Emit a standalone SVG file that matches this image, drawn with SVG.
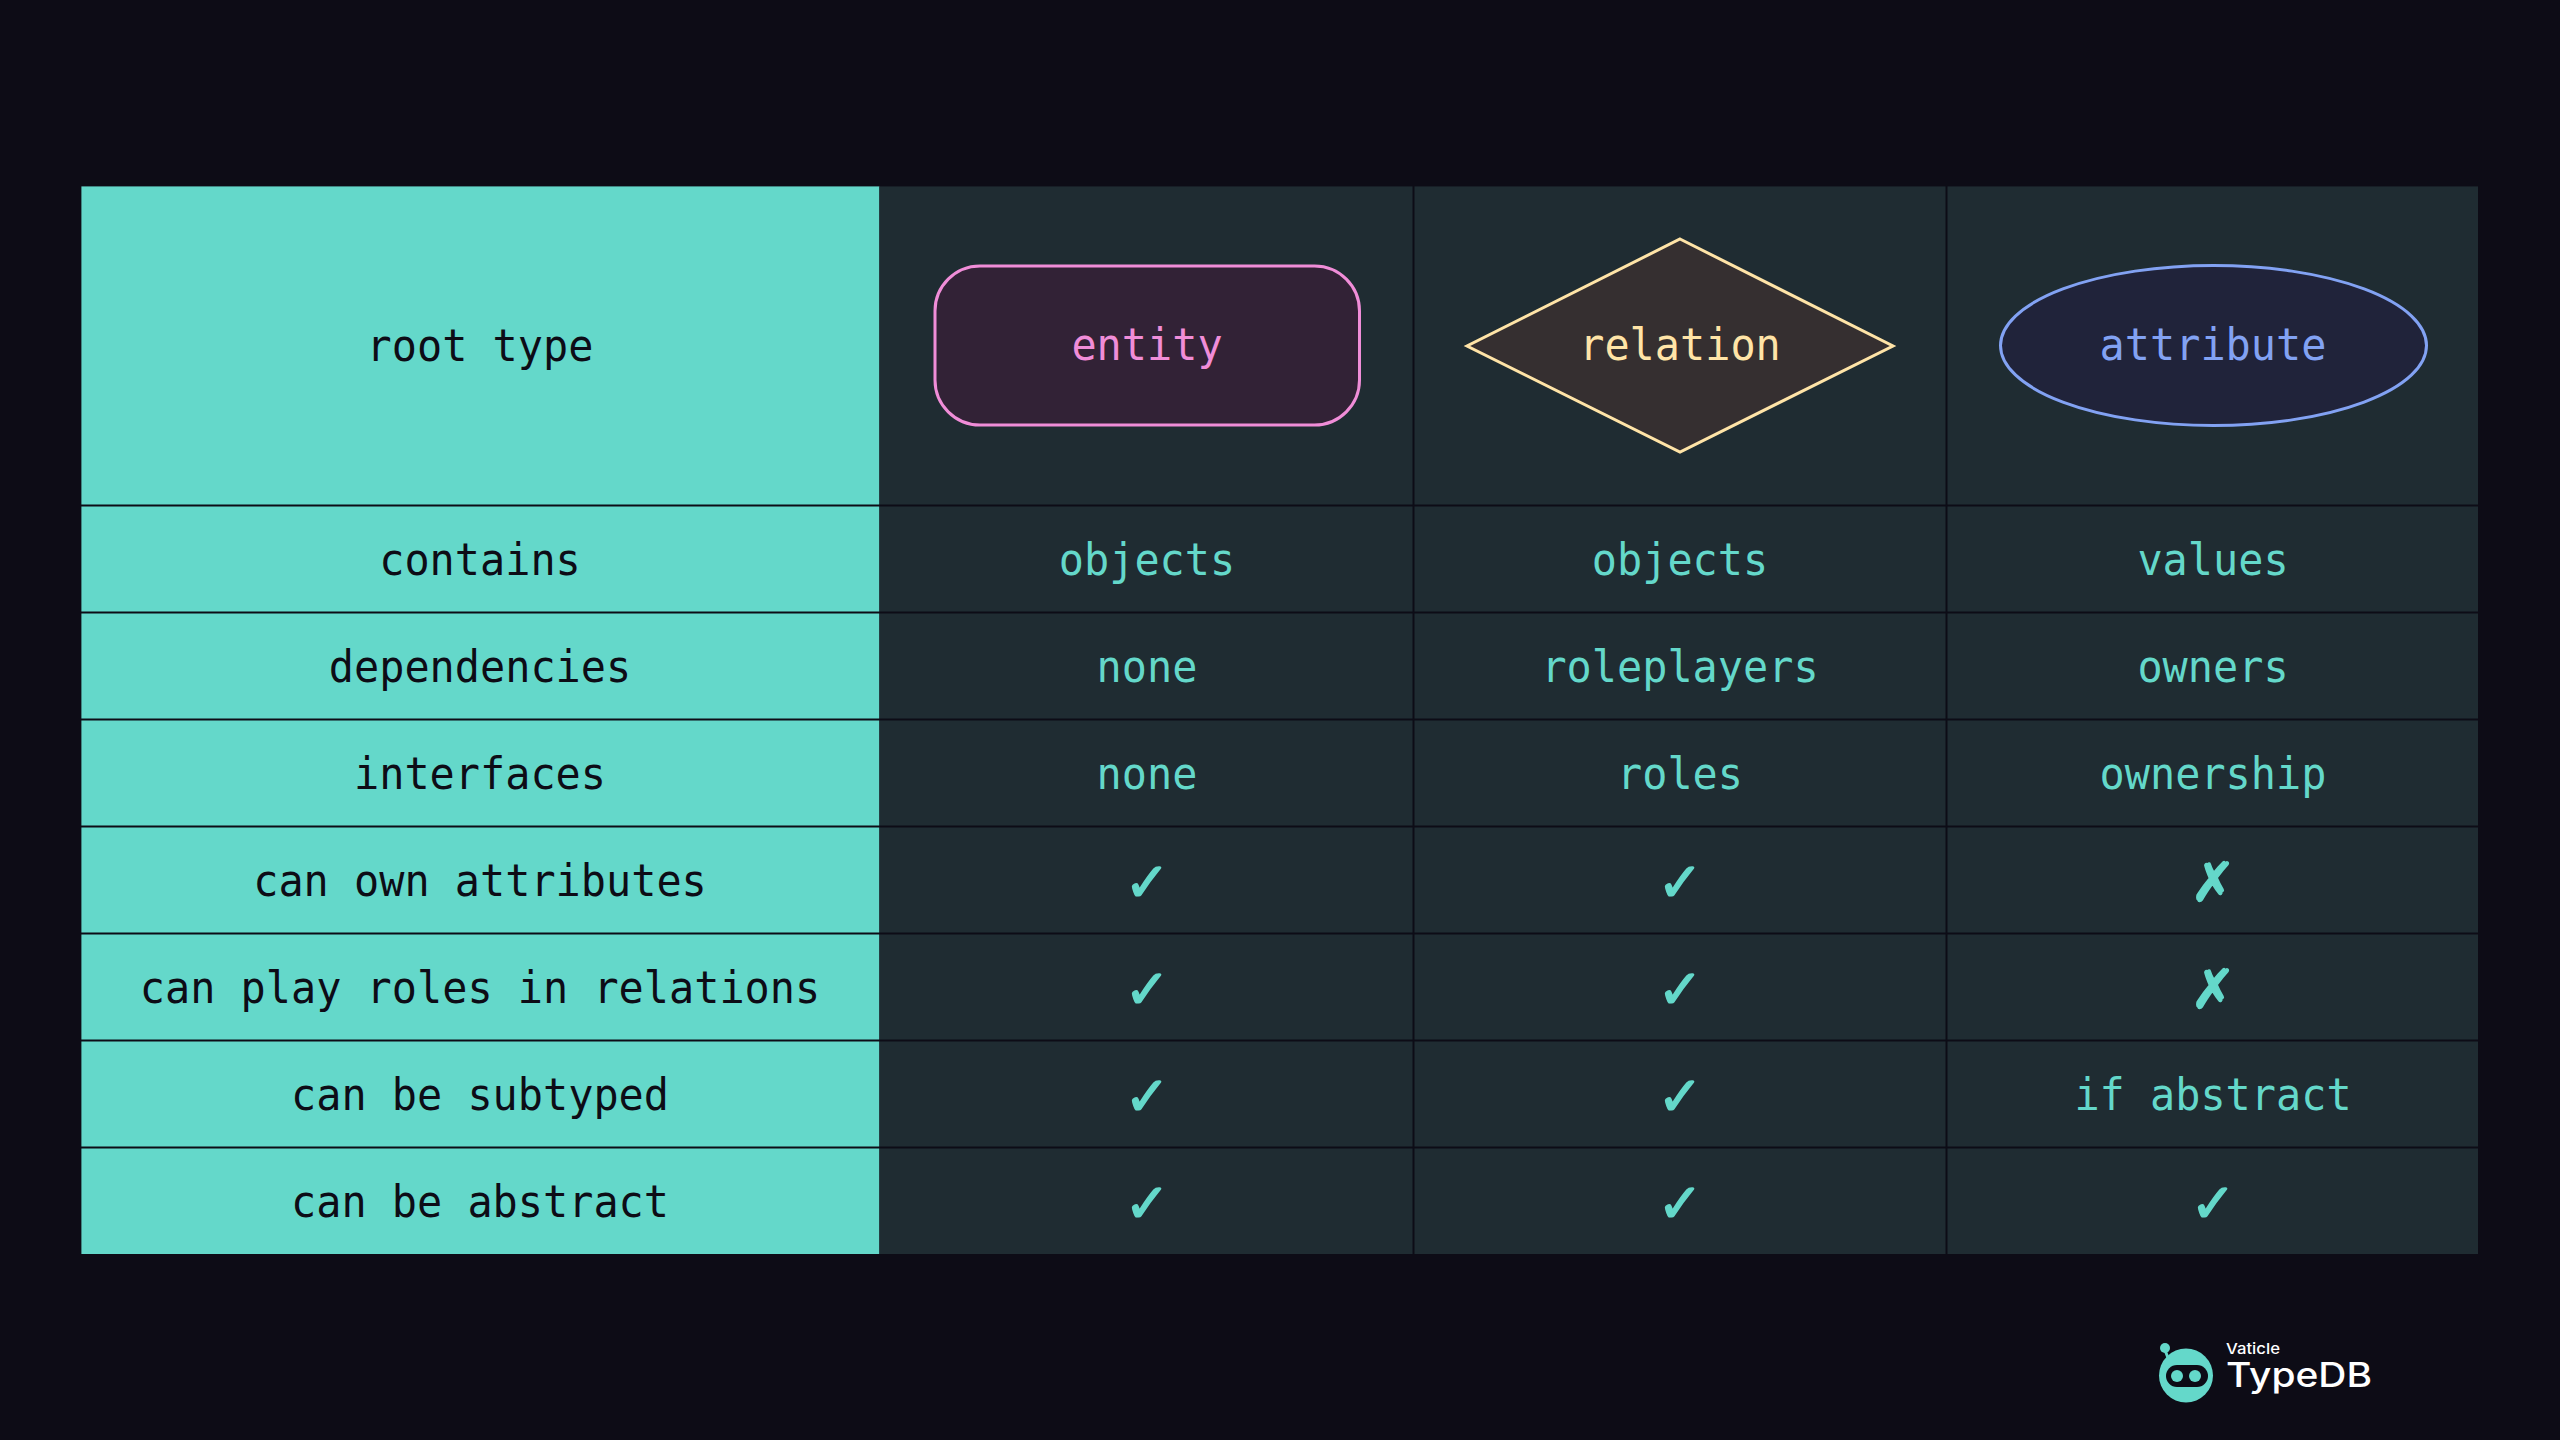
<svg xmlns="http://www.w3.org/2000/svg" width="2560" height="1440" viewBox="0 0 2560 1440">
<style>
.h{fill:#64d8ca}.c{fill:#1f2c32}
.t{font-family:"DejaVu Sans Mono",monospace;font-size:45px;text-anchor:middle}
.k{fill:#0d0c16}.v{fill:#64d8ca}
.g{stroke:#0d0c16;stroke-width:2;fill:none}
.m{font-family:"DejaVu Sans","Noto Sans",sans-serif;font-size:54px;font-weight:bold;text-anchor:middle;fill:#64d8ca;stroke:#64d8ca;stroke-width:1.500px}
</style>
<rect width="2560" height="1440" fill="#0d0c16"/>
<g id="table">
<rect class="h" x="81.400" y="186.400" width="798" height="1067.600"/>
<rect class="c" x="879.400" y="186.400" width="1598.600" height="1067.600"/>
<g class="g" id="grid">
<path d="M81 505.500H2478M81 612.500H2478M81 719.500H2478M81 826.500H2478M81 933.500H2478M81 1040.500H2478M81 1147.500H2478"/>
<path d="M1413.500 186V1254M1946.500 186V1254"/>
</g>
</g>
<g id="row-labels" class="t k">
<text x="480" y="361" textLength="226.800" lengthAdjust="spacingAndGlyphs">root type</text>
<text x="480" y="575" textLength="201.600" lengthAdjust="spacingAndGlyphs">contains</text>
<text x="480" y="682" textLength="302.400" lengthAdjust="spacingAndGlyphs">dependencies</text>
<text x="480" y="789" textLength="252" lengthAdjust="spacingAndGlyphs">interfaces</text>
<text x="480" y="896" textLength="453.600" lengthAdjust="spacingAndGlyphs">can own attributes</text>
<text x="480" y="1003" textLength="680.400" lengthAdjust="spacingAndGlyphs">can play roles in relations</text>
<text x="480" y="1110" textLength="378" lengthAdjust="spacingAndGlyphs">can be subtyped</text>
<text x="480" y="1217" textLength="378" lengthAdjust="spacingAndGlyphs">can be abstract</text>
</g>
<g id="entity">
<rect x="935" y="266" width="424.500" height="159" rx="45" fill="#322236" stroke="#f08dd8" stroke-width="3"/>
<text class="t" x="1147" y="359.500" fill="#f08dd8" textLength="151.200" lengthAdjust="spacingAndGlyphs">entity</text>
</g>
<g id="relation">
<polygon points="1680,239 1893,346 1680,452 1467,346" fill="#352f30" stroke="#ffe4a7" stroke-width="3"/>
<text class="t" x="1680" y="359.500" fill="#ffe4a7" textLength="201.600" lengthAdjust="spacingAndGlyphs">relation</text>
</g>
<g id="attribute">
<ellipse cx="2213.500" cy="345.500" rx="213" ry="80" fill="#20233a" stroke="#82a2f3" stroke-width="3"/>
<text class="t" x="2213" y="359.500" fill="#82a2f3" textLength="226.800" lengthAdjust="spacingAndGlyphs">attribute</text>
</g>
<g id="values" class="t v">
<text x="1147" y="575" textLength="176.400" lengthAdjust="spacingAndGlyphs">objects</text><text x="1680" y="575" textLength="176.400" lengthAdjust="spacingAndGlyphs">objects</text><text x="2213" y="575" textLength="151.200" lengthAdjust="spacingAndGlyphs">values</text>
<text x="1147" y="682" textLength="100.800" lengthAdjust="spacingAndGlyphs">none</text><text x="1680" y="682" textLength="277.200" lengthAdjust="spacingAndGlyphs">roleplayers</text><text x="2213" y="682" textLength="151.200" lengthAdjust="spacingAndGlyphs">owners</text>
<text x="1147" y="789" textLength="100.800" lengthAdjust="spacingAndGlyphs">none</text><text x="1680" y="789" textLength="126" lengthAdjust="spacingAndGlyphs">roles</text><text x="2213" y="789" textLength="226.800" lengthAdjust="spacingAndGlyphs">ownership</text>
<text x="2213" y="1110" textLength="277.200" lengthAdjust="spacingAndGlyphs">if abstract</text>
</g>
<g id="marks" class="m">
<text x="1147" y="901">✓</text><text x="1680" y="901">✓</text><text x="2213" y="901">✗</text>
<text x="1147" y="1008">✓</text><text x="1680" y="1008">✓</text><text x="2213" y="1008">✗</text>
<text x="1147" y="1115">✓</text><text x="1680" y="1115">✓</text>
<text x="1147" y="1222">✓</text><text x="1680" y="1222">✓</text><text x="2213" y="1222">✓</text>
</g>
<g id="logo">
<line x1="2165" y1="1350" x2="2168" y2="1358" stroke="#64d8ca" stroke-width="3"/>
<circle cx="2165" cy="1348" r="5" fill="#64d8ca"/>
<circle cx="2186" cy="1375.500" r="27" fill="#64d8ca"/>
<rect x="2166" y="1365" width="42" height="22" rx="11" fill="#0d0c16"/>
<circle cx="2177" cy="1376" r="6" fill="#64d8ca"/><circle cx="2195" cy="1376" r="6" fill="#64d8ca"/>
<text x="2226" y="1354" font-family="Inter,sans-serif" font-size="15" font-weight="500" fill="#fff" textLength="54" lengthAdjust="spacingAndGlyphs">Vaticle</text>
<text x="2226" y="1387" font-family="Inter,sans-serif" font-size="34" font-weight="500" fill="#fff" textLength="146" lengthAdjust="spacingAndGlyphs">TypeDB</text>
</g>
</svg>
